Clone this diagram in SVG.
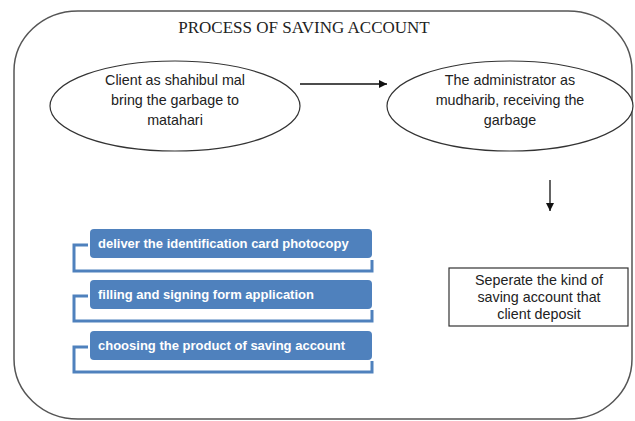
<svg xmlns="http://www.w3.org/2000/svg" width="635" height="421" viewBox="0 0 635 421">
  <defs>
    <marker id="arrow" viewBox="0 0 10 10" refX="10" refY="5" markerWidth="9" markerHeight="8" markerUnits="userSpaceOnUse" orient="auto">
      <path d="M0,0 L10,5 L0,10 Z" fill="#111"/>
    </marker>
    <marker id="arrowDown" viewBox="0 0 10 10" refX="10" refY="5" markerWidth="8" markerHeight="10" markerUnits="userSpaceOnUse" orient="auto">
      <path d="M0,0 L10,5 L0,10 Z" fill="#111"/>
    </marker>
  </defs>
  <style>
    .frame { fill: #fff; stroke: #555; stroke-width: 1.5; }
    .ell { fill: #fff; stroke: #333; stroke-width: 1.2; }
    .box { fill: #fff; stroke: #333; stroke-width: 1.2; }
    .title { font-family: "Liberation Serif", "Times New Roman", serif; font-size: 17px; fill: #222; text-anchor: middle; }
    .lbl { font-family: "Liberation Sans", Arial, sans-serif; font-size: 14.3px; fill: #222; text-anchor: middle; }
    .blue { fill: #4F81BD; }
    .btxt { font-family: "Liberation Sans", Arial, sans-serif; font-size: 13px; font-weight: bold; fill: #fff; }
    .brk { fill: none; stroke: #4F81BD; stroke-width: 3; }
    .conn { stroke: #111; stroke-width: 1.3; fill: none; }
  </style>
  <rect width="635" height="421" fill="#fff"/>
  <g id="frame">
    <rect class="frame" x="14" y="11" width="618" height="408" rx="64" ry="60"/>
    <text class="title" x="304" y="33">PROCESS OF SAVING ACCOUNT</text>
  </g>
  <g id="client">
    <ellipse class="ell" cx="175" cy="106" rx="125" ry="45"/>
    <text class="lbl" x="175" y="85">Client as shahibul mal</text>
    <text class="lbl" x="175" y="105">bring the garbage to</text>
    <text class="lbl" x="175" y="125">matahari</text>
  </g>
  <g id="administrator">
    <ellipse class="ell" cx="510" cy="106" rx="123" ry="45"/>
    <text class="lbl" x="510" y="85">The administrator as</text>
    <text class="lbl" x="510" y="105">mudharib, receiving the</text>
    <text class="lbl" x="510" y="125">garbage</text>
  </g>
  <g id="separate">
    <rect class="box" x="449" y="268" width="179" height="58"/>
    <text class="lbl" x="539" y="285">Seperate the kind of</text>
    <text class="lbl" x="539" y="302">saving account that</text>
    <text class="lbl" x="539" y="319">client deposit</text>
  </g>
  <g id="step1">
    <path class="brk" d="M88,245 H74 V271 H372 V260"/>
    <rect class="blue" x="90" y="229" width="282" height="29" rx="4"/>
    <text class="btxt" x="98" y="248">deliver the identification card photocopy</text>
  </g>
  <g id="step2">
    <path class="brk" d="M88,296 H74 V321 H372 V310"/>
    <rect class="blue" x="90" y="280" width="282" height="29" rx="4"/>
    <text class="btxt" x="98" y="299">filling and signing form application</text>
  </g>
  <g id="step3">
    <path class="brk" d="M88,347 H74 V372 H372 V361"/>
    <rect class="blue" x="90" y="331" width="282" height="29" rx="4"/>
    <text class="btxt" x="98" y="350">choosing the product of saving account</text>
  </g>
  <g id="connectors">
    <line class="conn" x1="300" y1="84" x2="387" y2="84" marker-end="url(#arrow)"/>
    <line class="conn" x1="550" y1="180" x2="550" y2="211" marker-end="url(#arrowDown)"/>
  </g>
</svg>
